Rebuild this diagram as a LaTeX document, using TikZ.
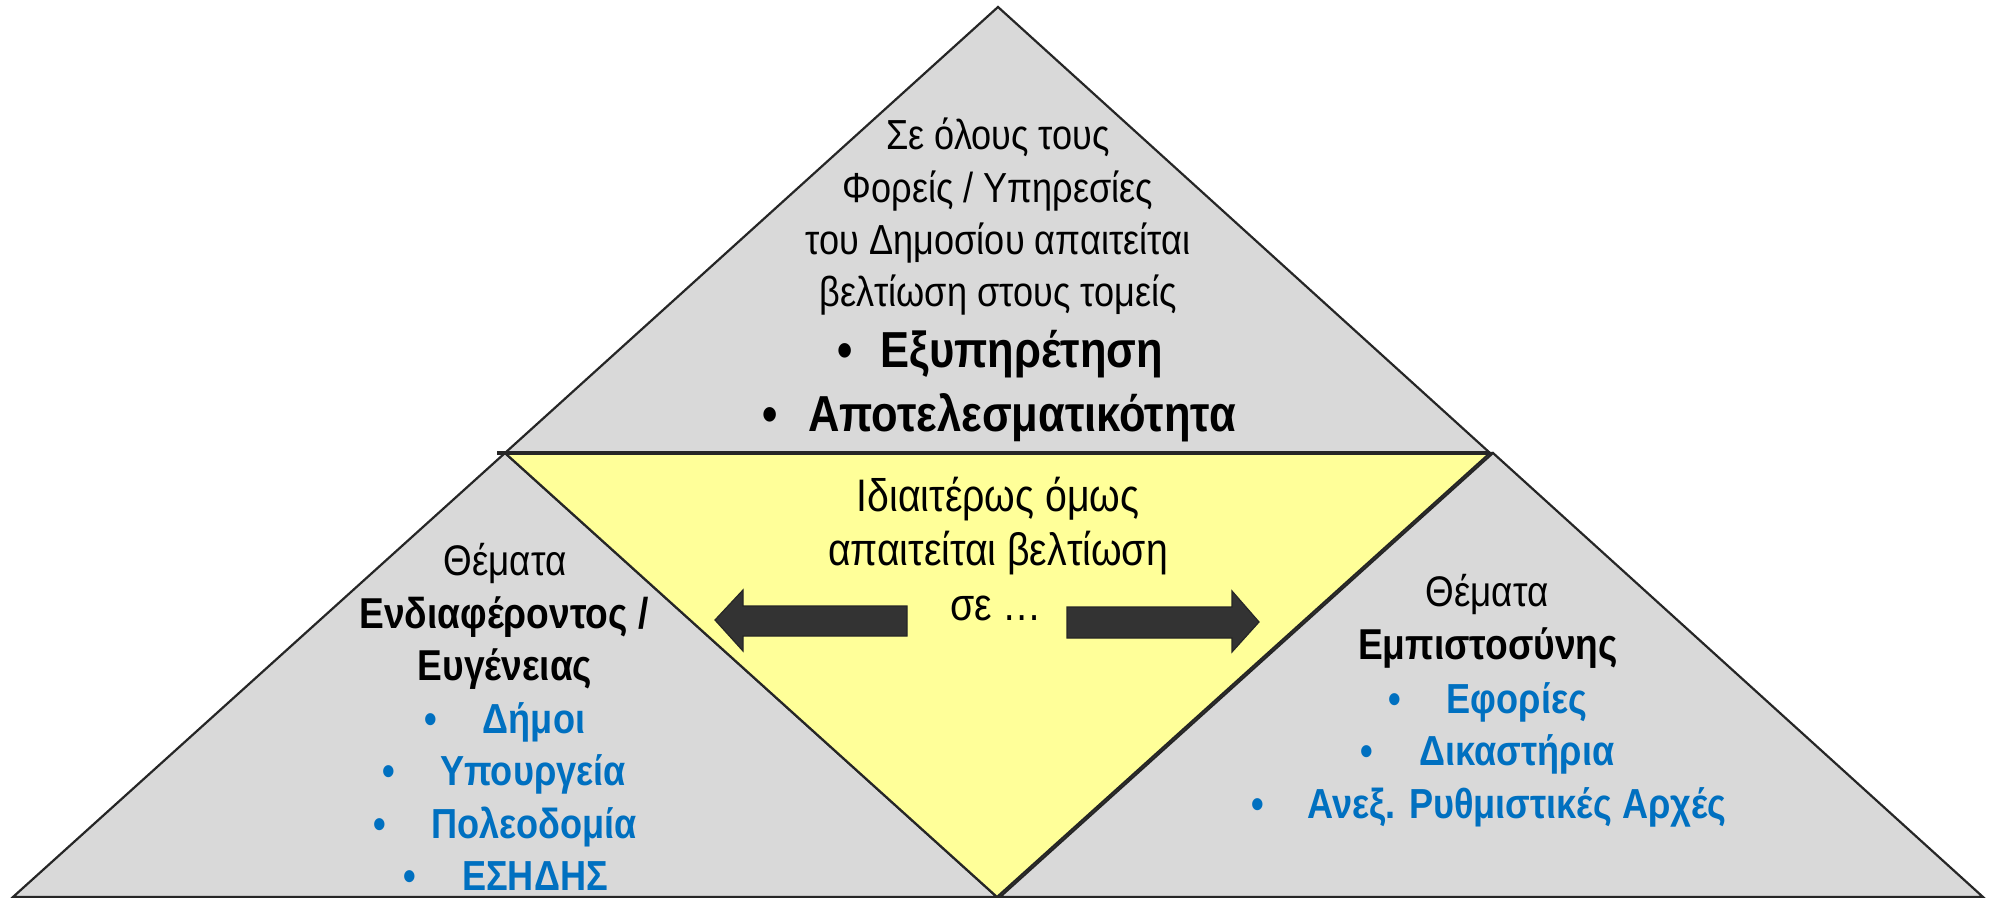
\documentclass[tikz,border=0pt]{standalone}
\usepackage{fontspec}
\setmainfont{Liberation Sans}[FakeStretch=0.86]
\definecolor{tri}{HTML}{D9D9D9}
\definecolor{yel}{HTML}{FFFF99}
\definecolor{edge}{HTML}{262626}
\definecolor{blu}{HTML}{0070C0}
\definecolor{arr}{HTML}{333333}
\tikzset{
  pane/.style={fill=tri, draw=edge, line width=1.1pt, line join=miter},
  topt/.style={anchor=base, inner sep=0pt, font=\fontsize{21}{25}\selectfont},
  topb/.style={anchor=base, inner sep=0pt, font=\fontsize{25.3}{29}\selectfont\bfseries},
  midt/.style={anchor=base, inner sep=0pt, font=\fontsize{22.8}{26}\selectfont},
  sidet/.style={anchor=base, inner sep=0pt, font=\fontsize{21.4}{25}\selectfont},
  sideb/.style={anchor=base, inner sep=0pt, font=\fontsize{21.6}{25}\selectfont\bfseries},
  blueb/.style={anchor=base, inner sep=0pt, text=blu, font=\fontsize{21}{25}\selectfont\bfseries},
  bigarrow/.style={fill=arr, draw=edge, line width=0.6pt, line join=miter},
}
\begin{document}
\begin{tikzpicture}[x=0.5pt, y=-0.5pt]
\useasboundingbox (0,0) rectangle (1993,898);
% corner points
\coordinate (A) at (998,7);
\coordinate (L) at (13,897);
\coordinate (R) at (1983,897);
\coordinate (ML) at (505,453);
\coordinate (MR) at (1490,453);
\coordinate (B) at (997,897);
\coordinate (MR2) at (1493,453);
\coordinate (B2) at (1000,897);
% panes
\draw[pane] (L) -- (ML) -- (B) -- cycle;
\draw[pane] (B2) -- (MR2) -- (R) -- cycle;
\draw[pane] (A) -- (MR) -- (ML) -- cycle;
\draw[pane, fill=yel] (ML) -- (MR) -- (B) -- cycle;
\draw[edge, line width=1.6pt] ([xshift=-4pt]ML) -- (MR);
% arrows
\draw[bigarrow] (715,620) -- (743,590) -- (743,606) -- (907,606) -- (907,636) -- (743,636) -- (743,651) -- cycle;
\draw[bigarrow] (1259,622) -- (1232,591) -- (1232,607) -- (1067,607) -- (1067,638) -- (1232,638) -- (1232,652) -- cycle;
% top text
\node[topt] (t1) at (998,150) {Σε όλους τους};
\node[topt] (t2) at (998,203) {Φορείς / Υπηρεσίες};
\node[topt] (t3) at (998,255) {του Δημοσίου απαιτείται};
\node[topt] (t4) at (998,307) {βελτίωση στους τομείς};
\node[topb] (t5b) at (845,368) {•};
\node[topb] (t5) at (1022,368) {Εξυπηρέτηση};
\node[topb] (t6b) at (770,432) {•};
\node[topb] (t6) at (1022,432) {Αποτελεσματικότητα};
% middle text
\node[midt] (m1) at (998,512) {Ιδιαιτέρως όμως};
\node[midt] (m2) at (998,566) {απαιτείται βελτίωση};
\node[midt] (m3) at (996,620) {σε …};
% left text
\node[sidet] (l1) at (505,575) {Θέματα};
\node[sideb] (l2) at (504,628) {Ενδιαφέροντος /};
\node[sideb] (l3) at (505,680) {Ευγένειας};
\node[blueb] (l4b) at (431,733) {•};
\node[blueb] (l4) at (534,733) {Δήμοι};
\node[blueb] (l5b) at (389,785) {•};
\node[blueb] (l5) at (533,785) {Υπουργεία};
\node[blueb] (l6b) at (380,838) {•};
\node[blueb] (l6) at (534,838) {Πολεοδομία};
\node[blueb] (l7b) at (410,890) {•};
\node[blueb] (l7) at (535,890) {ΕΣΗΔΗΣ};
% right text
\node[sidet] (r1) at (1487,607) {Θέματα};
\node[sideb] (r2) at (1488,660) {Εμπιστοσύνης};
\node[blueb] (r3b) at (1395,713) {•};
\node[blueb] (r3) at (1517,713) {Εφορίες};
\node[blueb] (r4b) at (1367,765) {•};
\node[blueb] (r4) at (1517,765) {Δικαστήρια};
\node[blueb] (r5b) at (1258,818) {•};
\node[blueb] (r5) at (1517,818) {Ανεξ. Ρυθμιστικές Αρχές};
\end{tikzpicture}
\end{document}
